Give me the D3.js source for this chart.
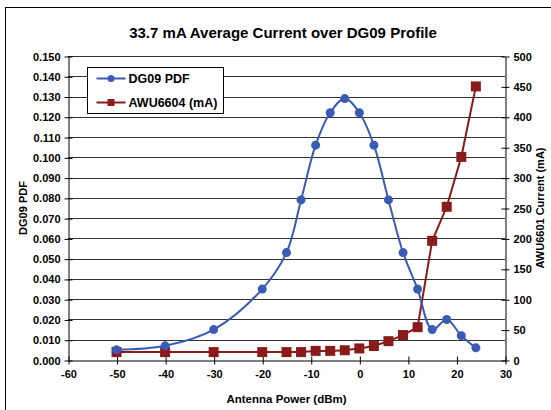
<!DOCTYPE html>
<html>
<head>
<meta charset="utf-8">
<script src="https://cdn.jsdelivr.net/npm/d3@7"></script>
<style>
body { margin: 0; background: #fff; }
text { font-family: Arial, "Liberation Sans", sans-serif; font-weight: bold; }
</style>
</head>
<body>
<script>
// chart values
var power = [-50, -40, -30, -20, -15, -12, -9, -6, -3, 0, 3, 6, 9, 12, 15, 18, 21, 24];
var pdf = [0.005, 0.007, 0.015, 0.035, 0.053, 0.079, 0.106, 0.122, 0.129, 0.122, 0.106, 0.079, 0.053, 0.035, 0.015, 0.020, 0.012, 0.006];
var current = [13, 13, 13, 13, 13, 13, 15, 15, 16, 19, 23, 31, 41, 54, 196, 252, 334, 450];
var xTicks = [-60, -50, -40, -30, -20, -10, 0, 10, 20, 30];
var leftTicks = d3.range(0, 0.1501, 0.01);
var rightTicks = d3.range(0, 501, 50);

var w = 551, h = 410;
var mLeft = 68, mRight = 505, mTop = 56, mBottom = 360;

var x = d3.scaleLinear().domain([-60, 30]).range([mLeft, mRight]);
var yL = d3.scaleLinear().domain([0, 0.15]).range([mBottom, mTop]);
var yR = d3.scaleLinear().domain([0, 500]).range([mBottom, mTop]);

var blue = '#3a5bb5';
var red = '#8b1a1a';

var svg = d3.select('body').append('svg')
    .attr('width', w)
    .attr('height', h);

// outer frame
svg.append('rect')
    .attr('x', 5.5).attr('y', 7.5)
    .attr('width', 600).attr('height', 500)
    .attr('fill', '#fff')
    .attr('stroke', '#000');

// title
svg.append('text')
    .attr('x', 283).attr('y', 38)
    .attr('text-anchor', 'middle')
    .style('font-size', '15px')
    .text('33.7 mA Average Current over DG09 Profile');

// gridlines
svg.append('g').selectAll('line')
    .data(leftTicks.slice(1))
    .enter().append('line')
    .attr('x1', mLeft).attr('x2', mRight)
    .attr('y1', d => Math.round(yL(d)) + 0.5)
    .attr('y2', d => Math.round(yL(d)) + 0.5)
    .attr('stroke', '#333');

// axes
var fmt = d3.format('.3f');
var axL = svg.append('g')
    .attr('transform', 'translate(' + (mLeft + 0.5) + ',0.5)')
    .call(d3.axisLeft(yL).tickValues(leftTicks).tickFormat(fmt).tickSizeInner(4).tickSizeOuter(0));
var axR = svg.append('g')
    .attr('transform', 'translate(' + (mRight + 0.5) + ',0.5)')
    .call(d3.axisRight(yR).tickValues(rightTicks).tickFormat(d => String(d)).tickSizeInner(4).tickSizeOuter(0));
var axX = svg.append('g')
    .attr('transform', 'translate(0.5,' + (mBottom + 0.5) + ')')
    .call(d3.axisBottom(x).tickValues(xTicks).tickFormat(d => String(d)).tickSizeInner(4).tickSizeOuter(0));

[axL, axR, axX].forEach(g => {
    g.selectAll('path, line').attr('stroke', '#000');
    g.selectAll('text').style('font-size', '11px').attr('fill', '#000');
});
// cross ticks
axL.selectAll('.tick line').attr('x1', 4);
axR.selectAll('.tick line').attr('x1', -4);
axX.selectAll('.tick line').attr('y1', -4);
axL.selectAll('.tick text').attr('x', -8);
axR.selectAll('.tick text').attr('x', 8);
axX.selectAll('.tick text').attr('y', 10);

// axis titles
svg.append('text')
    .attr('transform', 'translate(27,' + ((mTop + mBottom) / 2) + ') rotate(-90)')
    .attr('text-anchor', 'middle')
    .style('font-size', '11px')
    .text('DG09 PDF');
svg.append('text')
    .attr('transform', 'translate(544,' + ((mTop + mBottom) / 2) + ') rotate(-90)')
    .attr('text-anchor', 'middle')
    .style('font-size', '11px')
    .text('AWU6601 Current (mA)');
svg.append('text')
    .attr('x', (mLeft + mRight) / 2).attr('y', 403)
    .attr('text-anchor', 'middle')
    .style('font-size', '11.5px')
    .text('Antenna Power (dBm)');

// current series
var redLine = d3.line()
    .x((d, i) => x(power[i]))
    .y(d => yR(d));
svg.append('path')
    .attr('d', redLine(current))
    .attr('fill', 'none')
    .attr('stroke', red)
    .attr('stroke-width', 2);
svg.append('g').selectAll('rect')
    .data(current)
    .enter().append('rect')
    .attr('x', (d, i) => x(power[i]) - 5)
    .attr('y', d => yR(d) - 5)
    .attr('width', 10).attr('height', 10)
    .attr('fill', red);

// pdf series
var blueLine = d3.line()
    .x((d, i) => x(power[i]))
    .y(d => yL(d))
    .curve(d3.curveCatmullRom.alpha(0.5));
svg.append('path')
    .attr('d', blueLine(pdf))
    .attr('fill', 'none')
    .attr('stroke', blue)
    .attr('stroke-width', 2);
svg.append('g').selectAll('circle')
    .data(pdf)
    .enter().append('circle')
    .attr('cx', (d, i) => x(power[i]))
    .attr('cy', d => yL(d))
    .attr('r', 4.5)
    .attr('fill', blue);

// legend
var lg = svg.append('g').attr('transform', 'translate(87.5,67.5)');
lg.append('rect')
    .attr('width', 136).attr('height', 46)
    .attr('fill', '#fff')
    .attr('stroke', '#000');
var items = [
    {name: 'DG09 PDF', color: blue, shape: 'circle'},
    {name: 'AWU6604 (mA)', color: red, shape: 'square'}
];
items.forEach((it, i) => {
    var yy = 11 + i * 24;
    lg.append('line')
        .attr('x1', 9).attr('x2', 38)
        .attr('y1', yy).attr('y2', yy)
        .attr('stroke', it.color).attr('stroke-width', 2);
    if (it.shape === 'circle') {
        lg.append('circle').attr('cx', 23.5).attr('cy', yy).attr('r', 3.5).attr('fill', it.color);
    } else {
        lg.append('rect').attr('x', 20).attr('y', yy - 3.5).attr('width', 7).attr('height', 7).attr('fill', it.color);
    }
    lg.append('text')
        .attr('x', 41).attr('y', yy + 4.5)
        .style('font-size', '12.5px')
        .text(it.name);
});
</script>
</body>
</html>
